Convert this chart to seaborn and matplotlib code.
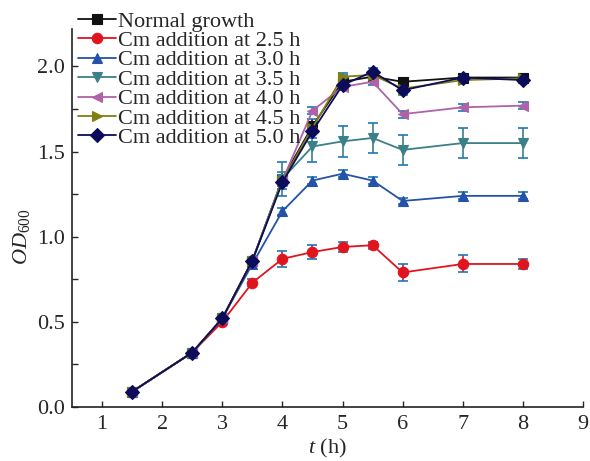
import numpy as np
import pandas as pd
import matplotlib
matplotlib.use('Agg')
import matplotlib.pyplot as plt
import seaborn as sns

# sampling times (h)
TIME = [1.5, 2.5, 3.0, 3.5, 4.0, 4.5, 5.0, 5.5, 6.0, 7.0, 8.0]

LABELS = ['Normal growth', 'Cm addition at 2.5 h', 'Cm addition at 3.0 h',
          'Cm addition at 3.5 h', 'Cm addition at 4.0 h', 'Cm addition at 4.5 h',
          'Cm addition at 5.0 h']

OD_NORMAL = [0.09, 0.32, 0.52, 0.86, 1.34, 1.65, 1.91, 1.94, 1.91, 1.935, 1.935]
OD_CM25 = [0.09, 0.32, 0.50, 0.73, 0.87, 0.91, 0.94, 0.95, 0.79, 0.84, 0.84]
OD_CM30 = [0.09, 0.32, 0.52, 0.84, 1.15, 1.33, 1.37, 1.33, 1.21, 1.24, 1.24]
OD_CM35 = [0.09, 0.32, 0.52, 0.86, 1.34, 1.53, 1.56, 1.58, 1.51, 1.55, 1.55]
OD_CM40 = [0.09, 0.32, 0.52, 0.86, 1.33, 1.74, 1.88, 1.91, 1.72, 1.76, 1.77]
OD_CM45 = [0.09, 0.32, 0.52, 0.86, 1.33, 1.64, 1.94, 1.95, 1.87, 1.92, 1.93]
OD_CM50 = [0.09, 0.32, 0.52, 0.86, 1.32, 1.62, 1.89, 1.97, 1.86, 1.935, 1.92]

ERR_NORMAL = [0.01, 0.01, 0.01, 0.02, 0.04, 0.04, 0.04, 0.03, 0.02, 0.02, 0.02]
ERR_CM25 = [0.01, 0.01, 0.01, 0.02, 0.045, 0.04, 0.03, 0.02, 0.05, 0.05, 0.03]
ERR_CM30 = [0.01, 0.01, 0.01, 0.02, 0.02, 0.02, 0.02, 0.02, 0.02, 0.02, 0.02]
ERR_CM35 = [0.01, 0.01, 0.01, 0.02, 0.10, 0.09, 0.09, 0.09, 0.09, 0.09, 0.09]
ERR_CM40 = [0.01, 0.01, 0.01, 0.02, 0.03, 0.02, 0.02, 0.02, 0.02, 0.02, 0.02]
ERR_CM45 = [0.01, 0.01, 0.01, 0.02, 0.03, 0.03, 0.02, 0.02, 0.02, 0.02, 0.02]
ERR_CM50 = [0.01, 0.01, 0.01, 0.02, 0.04, 0.04, 0.03, 0.02, 0.03, 0.02, 0.02]

COLORS = ['#111111', '#e0141e', '#2452a8', '#3b8089', '#b062a8', '#808010', '#0c0c5a']
MARKERS = ['s', 'o', '^', 'v', '<', '>', 'D']

series = [OD_NORMAL, OD_CM25, OD_CM30, OD_CM35, OD_CM40, OD_CM45, OD_CM50]
errors = [ERR_NORMAL, ERR_CM25, ERR_CM30, ERR_CM35, ERR_CM40, ERR_CM45, ERR_CM50]

df = pd.concat([pd.DataFrame({'t': TIME, 'OD': s, 'err': e, 'Group': lab})
                for s, e, lab in zip(series, errors, LABELS)], ignore_index=True)

sns.set_style('ticks')
plt.rcParams['font.family'] = ['Liberation Serif', 'DejaVu Serif']
plt.rcParams['mathtext.fontset'] = 'custom'
plt.rcParams['mathtext.rm'] = 'Liberation Serif'
plt.rcParams['mathtext.it'] = 'Liberation Serif:italic'
FS = 16

fig = plt.figure(figsize=(5.9, 4.61), dpi=100)
ax = fig.add_axes([72 / 590, 1 - 407 / 461, 511 / 590, 378 / 461])

palette = dict(zip(LABELS, COLORS))
markers = dict(zip(LABELS, MARKERS))

for lab in LABELS:
    d = df[df['Group'] == lab]
    ax.errorbar(d['t'], d['OD'], yerr=d['err'], fmt='none', ecolor=palette[lab],
                elinewidth=1.2, capsize=3.5, capthick=1.2)

sns.lineplot(data=df, x='t', y='OD', hue='Group', style='Group', hue_order=LABELS,
             style_order=LABELS, palette=palette, markers=markers, dashes=False,
             markersize=7.5, markeredgewidth=0.8, linewidth=1.3, ax=ax, legend='full')

# marker edges in the series colour (no white rim)
for line in ax.lines:
    line.set_markeredgecolor(line.get_color())

ax.set_xlim(0.5, 9)
ax.set_ylim(0, 2.22)
ax.set_xticks(range(1, 10))
ax.set_yticks([0, 0.5, 1.0, 1.5, 2.0])
ax.set_yticklabels(['0.0', '0.5', '1.0', '1.5', '2.0'])
ax.set_yticks(np.arange(0.25, 2.2, 0.5), minor=True)
ax.tick_params(axis='both', which='both', direction='in', labelsize=FS, width=1, length=4)
ax.tick_params(axis='x', pad=6)
ax.tick_params(axis='y', pad=5)
sns.despine(ax=ax)
for sp in ['left', 'bottom']:
    ax.spines[sp].set_linewidth(1.2)
    ax.spines[sp].set_color('#222222')

ax.set_xlabel(r'$t$ (h)', fontsize=FS, labelpad=2)
ax.set_ylabel(r'$OD_{600}$', fontsize=FS)
ax.yaxis.set_label_coords(-0.078, 0.45)

handles, labels = ax.get_legend_handles_labels()
for h in handles:
    h.set_markeredgecolor(h.get_color())
ax.legend(handles, labels, loc='upper left', bbox_to_anchor=(78 / 590, 1 - 11 / 461),
          bbox_transform=fig.transFigure, frameon=False, fontsize=FS,
          handlelength=1.7, handletextpad=0.1, labelspacing=-0.05, borderpad=0,
          borderaxespad=0)

fig.savefig('out.png', dpi=100)
